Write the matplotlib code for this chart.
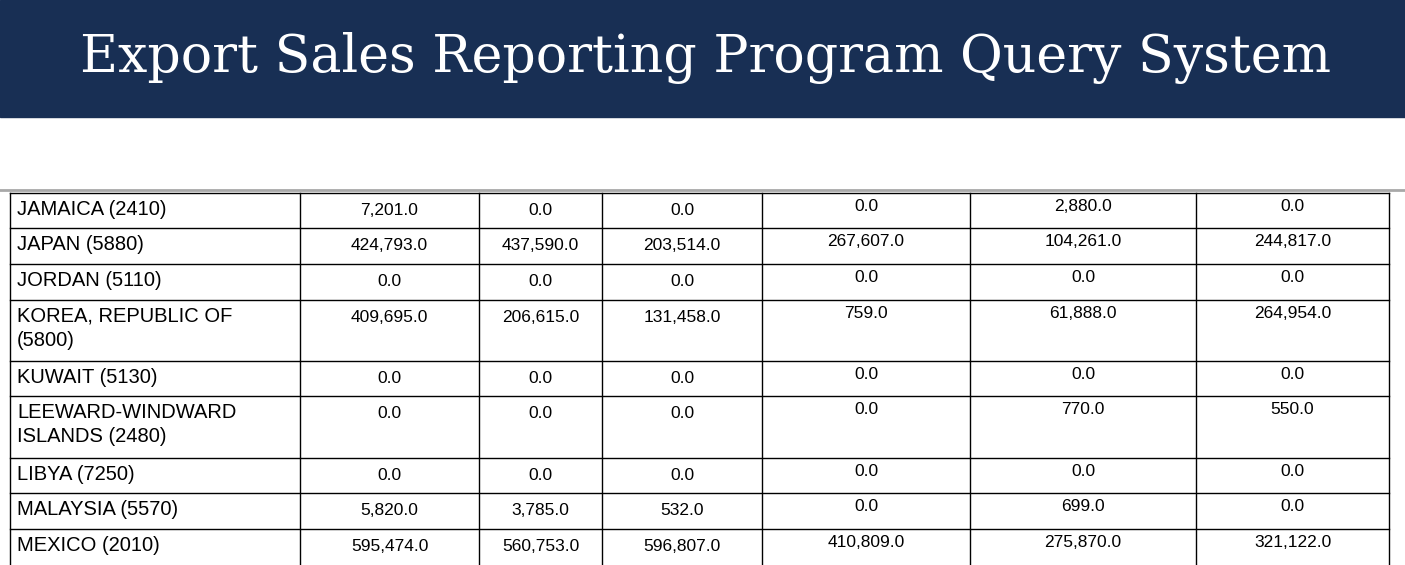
import matplotlib.pyplot as plt

# datos de la tabla
paises = ["JAMAICA (2410)", "JAPAN (5880)", "JORDAN (5110)",
          "KOREA, REPUBLIC OF\n(5800)", "KUWAIT (5130)",
          "LEEWARD-WINDWARD\nISLANDS (2480)", "LIBYA (7250)",
          "MALAYSIA (5570)", "MEXICO (2010)"]
col1 = [7201.0, 424793.0, 0.0, 409695.0, 0.0, 0.0, 0.0, 5820.0, 595474.0]
col2 = [0.0, 437590.0, 0.0, 206615.0, 0.0, 0.0, 0.0, 3785.0, 560753.0]
col3 = [0.0, 203514.0, 0.0, 131458.0, 0.0, 0.0, 0.0, 532.0, 596807.0]
col4 = [0.0, 267607.0, 0.0, 759.0, 0.0, 0.0, 0.0, 0.0, 410809.0]
col5 = [2880.0, 104261.0, 0.0, 61888.0, 0.0, 770.0, 0.0, 699.0, 275870.0]
col6 = [0.0, 244817.0, 0.0, 264954.0, 0.0, 550.0, 0.0, 0.0, 321122.0]
columnas = [col1, col2, col3, col4, col5, col6]

# layout en pixeles
bordes_x = [10, 300, 479, 602, 762, 970, 1196, 1389]
bordes_y = [193, 228, 264, 300, 361, 396, 458, 493, 529, 568]

fig = plt.figure(figsize=(14.05, 5.65), dpi=100)
ax = fig.add_axes([0, 0, 1, 1])
ax.set_xlim(0, 1405)
ax.set_ylim(565, 0)
ax.axis("off")

# encabezado
ax.add_patch(plt.Rectangle((0, 0), 1405, 117, color="#182f54"))
ax.text(705, 58, "Export Sales Reporting Program Query System", color="white",
        fontsize=37.5, family="DejaVu Serif", ha="center", va="center")

# linea gris
ax.plot([0, 1405], [190, 190], color="#a8a8a8", lw=2)

# grilla
for x in bordes_x:
    ax.plot([x, x], [bordes_y[0], bordes_y[-1]], color="black", lw=1)
for y in bordes_y:
    ax.plot([bordes_x[0], bordes_x[-1]], [y, y], color="black", lw=1)

fuente = "Liberation Sans"
for i, pais in enumerate(paises):
    top = bordes_y[i]
    ax.text(17, top + 7, pais, fontsize=14.5, family=fuente, va="top",
            linespacing=1.3)
    for j, col in enumerate(columnas):
        cx = (bordes_x[j + 1] + bordes_x[j + 2]) / 2
        dy = 10 if j < 3 else 6
        ax.text(cx, top + dy, f"{col[i]:,.1f}", fontsize=12.5, family=fuente,
                ha="center", va="top")

fig.savefig("out.png", dpi=100)
